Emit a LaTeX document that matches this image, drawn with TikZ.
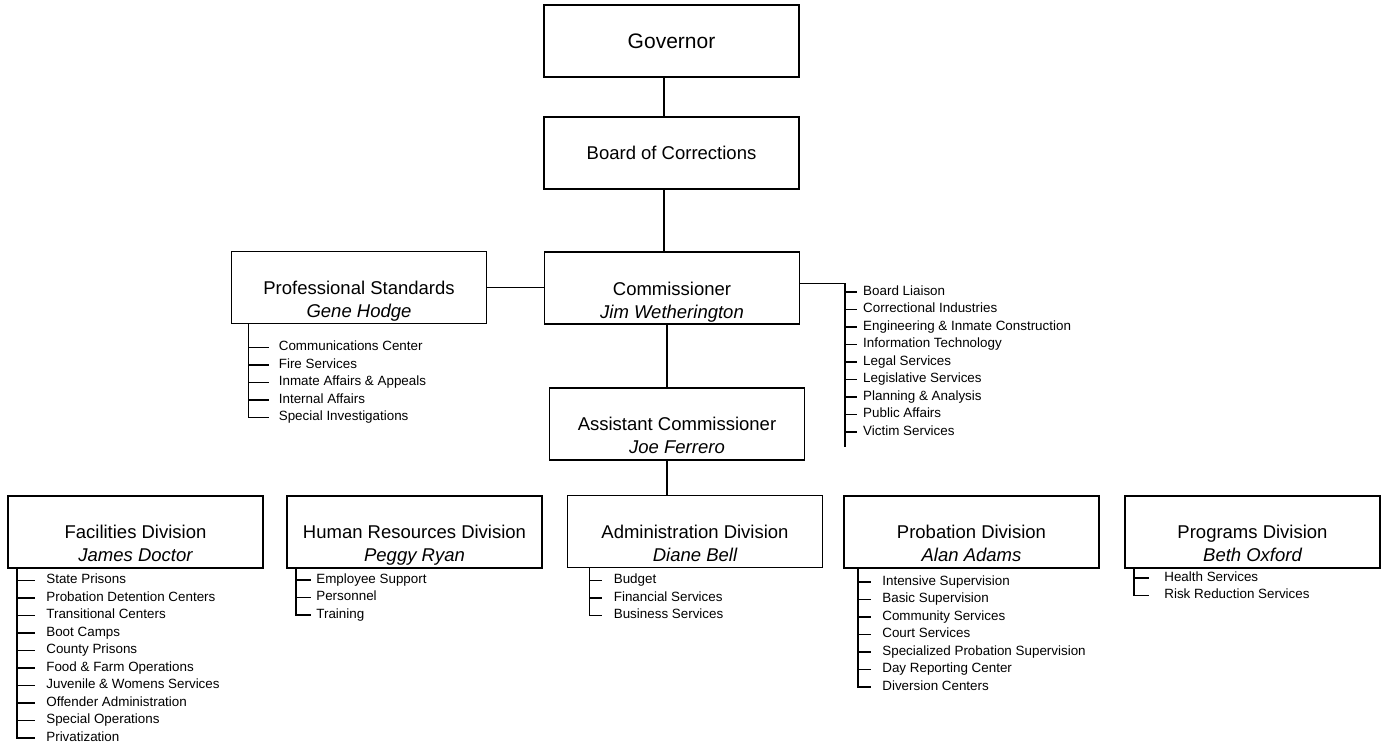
\documentclass[tikz,border=0pt]{standalone}
\usepackage{fontspec}
\setmainfont{Liberation Sans}
\usetikzlibrary{calc}

% box with title and person
\newcommand{\orgunit}[4]{%
  \node[unit] (#1) at (#2) {};
  \node[unittitle] (#1-title) at ([yshift=30]#1.south) {#3};
  \node[unitname] (#1-name) at ([yshift=7]#1.south) {#4};
}
% list of duties: prefix, spine top, tick, gap, first drop, items
\newcommand{\duties}[6]{%
  \coordinate (#1-top) at (#2);
  \foreach \task [count=\k] in {#6}
  { \node[duty, inner xsep=#4] (#1-\k) at ($(#1-top)+(#3,#5+17.5*\k-17.5)$) {\task};
    \draw[link] (#1-top) |- (#1-\k.west);}
}

\begin{document}
\begin{tikzpicture}[x=1pt, y=-1pt,
  unit/.style={draw, line width=1.7pt, minimum width=255, minimum height=72, inner sep=0},
  unittitle/.style={anchor=base, inner sep=0, font=\fontsize{18.5}{22}\selectfont},
  unitname/.style={anchor=base, inner sep=0, font=\fontsize{18.5}{22}\selectfont\itshape},
  duty/.style={anchor=west, inner ysep=0, text height=9.5, text depth=2.8, font=\fontsize{13.4}{16}\selectfont},
  link/.style={line width=1.5pt}]
\useasboundingbox (0,0) rectangle (1383,746);

\node[unit, font=\fontsize{21}{25}\selectfont] (gov) at (671.5,41) {Governor};
\node[unit, font=\fontsize{18.5}{22}\selectfont] (board) at (671.5,153) {Board of Corrections};
\orgunit{comm}{672,288.3}{Commissioner}{Jim Wetherington}
\orgunit{ps}{359,287.5}{Professional Standards}{Gene Hodge}
\orgunit{asst}{677,424}{Assistant Commissioner}{Joe Ferrero}
\orgunit{fac}{135.5,531.7}{Facilities Division}{James Doctor}
\orgunit{hr}{414.5,532}{Human Resources Division}{Peggy Ryan}
\orgunit{admin}{695,531.5}{Administration Division}{Diane Bell}
\orgunit{prob}{971.5,532}{Probation Division}{Alan Adams}
\orgunit{prog}{1252.5,532}{Programs Division}{Beth Oxford}

% chain of command
\coordinate (trunk) at (664,0);
\coordinate (trunk2) at (667,0);
\draw[link] (gov.south -| trunk) -- (board.north -| trunk);
\draw[link] (board.south -| trunk) -- (comm.north -| trunk);
\draw[link] (comm.south -| trunk2) -- (asst.north -| trunk2);
\draw[link] (asst.south -| trunk2) -- (admin.north -| trunk2);
\draw[link] (ps.east) -- (ps.east -| comm.west);

% staff offices
\duties{comm}{845,283.3}{12}{6}{8.7}{Board Liaison, Correctional Industries,
  Engineering \& Inmate Construction, Information Technology, Legal Services,
  Legislative Services, Planning \& Analysis, Public Affairs, Victim Services}
\coordinate (comm-end) at (845,447);
\draw[link] ([yshift=5]comm.east) -- (comm-top) -- (comm-end);

\duties{ps}{[xshift=18]ps.south west}{20}{10}{23}{Communications Center,
  Fire Services, Inmate Affairs \& Appeals, Internal Affairs, Special Investigations}
\duties{fac}{[xshift=10]fac.south west}{18}{11}{11.7}{State Prisons,
  Probation Detention Centers, Transitional Centers, Boot Camps, County Prisons,
  Food \& Farm Operations, Juvenile \& Womens Services, Offender Administration,
  Special Operations, Privatization}
\duties{hr}{[xshift=10]hr.south west}{15}{5}{11}{Employee Support, Personnel, Training}
\duties{admin}{[xshift=23]admin.south west}{12}{12}{12}{Budget, Financial Services,
  Business Services}
\duties{prob}{[xshift=15]prob.south west}{13}{11}{13}{Intensive Supervision,
  Basic Supervision, Community Services, Court Services,
  Specialized Probation Supervision, Day Reporting Center, Diversion Centers}
\duties{prog}{[xshift=10]prog.south west}{15}{15}{9}{Health Services,
  Risk Reduction Services}
\end{tikzpicture}
\end{document}
